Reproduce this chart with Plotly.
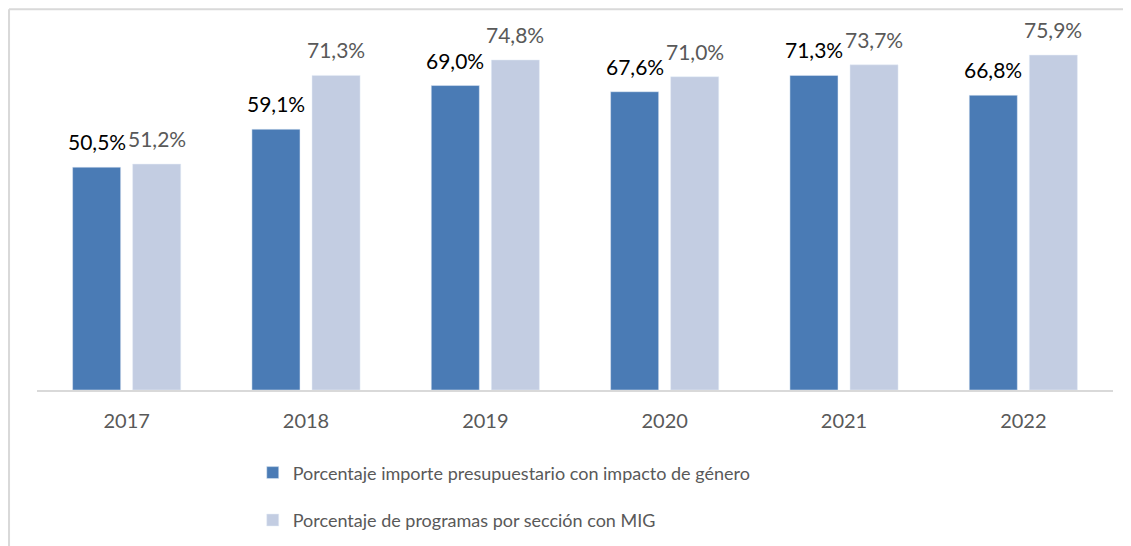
import plotly.graph_objects as go

years = ["2017", "2018", "2019", "2020", "2021", "2022"]
importe = [50.5, 59.1, 69.0, 67.6, 71.3, 66.8]
programas = [51.2, 71.3, 74.8, 71.0, 73.7, 75.9]
name_importe = "Porcentaje importe presupuestario con impacto de género"
name_programas = "Porcentaje de programas por sección con MIG"

dark = "#4a7bb5"
light = "#c3cde2"
FONT = "Lato, 'Open Sans', sans-serif"

def fmt(v):
    return f"{v:.1f}".replace(".", ",") + "%"

fig = go.Figure()
fig.add_trace(go.Bar(x=years, y=importe, name=name_importe, marker_color=dark,
                     legendgroup="a", hoverinfo="skip"))
fig.add_trace(go.Bar(x=years, y=programas, name=name_programas, marker_color=light,
                     legendgroup="b", hoverinfo="skip"))

# data labels: x given as category index so the category axis is not stretched
for i, v in enumerate(importe):
    fig.add_annotation(x=i, y=v, text=fmt(v), showarrow=False, xshift=-30, yshift=11,
                       yanchor="bottom", font=dict(family=FONT, size=21, color="#000000"))
for i, v in enumerate(programas):
    fig.add_annotation(x=i, y=v, text=fmt(v), showarrow=False, xshift=30, yshift=11,
                       yanchor="bottom", font=dict(family=FONT, size=21, color="#595959"))

# outer chart border (top and left visible)
border = dict(color="#d9d9d9", width=2)
fig.add_shape(type="line", xref="paper", yref="paper",
              x0=-0.026, x1=-0.026, y0=1.0785, y1=-0.6, line=border)
fig.add_shape(type="line", xref="paper", yref="paper",
              x0=-0.026, x1=1.2, y0=1.0785, y1=1.0785, line=border)

fig.update_layout(
    width=1123, height=538,
    margin=dict(l=29.4, r=18.4, t=29, b=155.5, autoexpand=False),
    paper_bgcolor="white", plot_bgcolor="white",
    barmode="group", bargap=0.33, bargroupgap=0.2,
    font=dict(family=FONT, size=19, color="#595959"),
    showlegend=True,
    legend=dict(orientation="v", x=0.2005, xanchor="left", y=-0.1825, yanchor="top",
                tracegroupgap=21, font=dict(family=FONT, size=18, color="#595959"),
                bgcolor="rgba(0,0,0,0)"),
    xaxis=dict(type="category", range=[-0.5, len(years) - 0.5], showline=True,
               linecolor="#d9d9d9", linewidth=1.5, ticks="",
               showgrid=False, ticklabelstandoff=12,
               tickfont=dict(family=FONT, size=20, color="#595959")),
    yaxis=dict(range=[0, 80], visible=False, showgrid=False, zeroline=False),
)

fig.write_html("out.html")
